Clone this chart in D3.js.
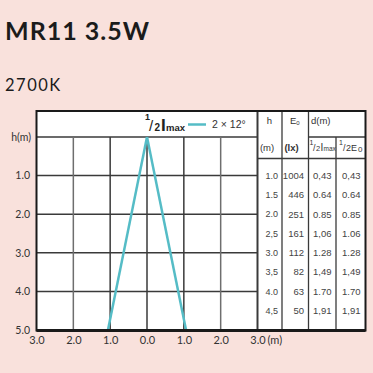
<!DOCTYPE html>
<html>
<head>
<meta charset="utf-8">
<script src="https://cdn.jsdelivr.net/npm/d3@7"></script>
<style>
  html, body { margin: 0; padding: 0; background: #f9e1dc; }
  svg { display: block; }
</style>
</head>
<body>
<script>
var svgW = 373;
var svgH = 373;

// chart data
var xTicks = [-3, -2, -1, 0, 1, 2, 3];
var yTicks = [1, 2, 3, 4, 5];
var coneH = [0, 5];
var coneHalf = [0, 1.06];   // half width at h (m), 12 deg half angle

// table data
var tableH = [1.0, 1.5, 2.0, 2.5, 3.0, 3.5, 4.0, 4.5];
var tableHLabel = ["1.0", "1.5", "2.0", "2,5", "3.0", "3,5", "4.0", "4,5"];
var tableE0 = [1004, 446, 251, 161, 112, 82, 63, 50];
var tableDImax = ["0,43", "0.64", "0.85", "1,06", "1.28", "1,49", "1.70", "1,91"];
var tableDE0 = ["0,43", "0.64", "0.85", "1.06", "1.28", "1,49", "1.70", "1,91"];

var teal = "#55bcc6";
var gridCol = "#3a3a3a";
var textCol = "#333";

var svg = d3.select("body")
  .append("svg")
  .attr("width", svgW)
  .attr("height", svgH);

// title
svg.append("text")
  .attr("x", 5).attr("y", 40)
  .attr("font-family", "Lato")
  .attr("font-weight", "bold")
  .attr("font-size", "25px")
  .attr("letter-spacing", "1px")
  .attr("fill", "#1b1b1b")
  .text("MR11 3.5W");

svg.append("text")
  .attr("x", 5).attr("y", 91)
  .attr("font-family", "Lato")
  .attr("font-size", "16.5px")
  .attr("letter-spacing", "1.5px")
  .attr("fill", "#1b1b1b")
  .text("2700K");

var x = d3.scaleLinear().domain([-3, 3]).range([36.5, 257.5]);
var y = d3.scaleLinear().domain([0, 5]).range([137, 330]);

var boxL = 36.5, boxT = 111, boxR = 365.5, boxB = 330.5;

// white panel
svg.append("rect")
  .attr("x", boxL).attr("y", boxT)
  .attr("width", boxR - boxL).attr("height", boxB - boxT)
  .attr("fill", "white");

// horizontal grid (h = 0..4)
svg.selectAll("line.hgrid")
  .data([0, 1, 2, 3, 4])
  .enter()
  .append("line")
  .attr("class", "hgrid")
  .attr("x1", x(-3)).attr("x2", x(3))
  .attr("y1", function(d) { return y(d); })
  .attr("y2", function(d) { return y(d); })
  .attr("stroke", gridCol)
  .attr("stroke-width", 1.5);

// vertical grid
svg.selectAll("line.vgrid")
  .data([-2, -1, 0, 1, 2])
  .enter()
  .append("line")
  .attr("class", "vgrid")
  .attr("x1", function(d) { return x(d); })
  .attr("x2", function(d) { return x(d); })
  .attr("y1", y(0)).attr("y2", y(5))
  .attr("stroke", function(d) { return Math.abs(d) == 2 ? "#6e6e6e" : gridCol; })
  .attr("stroke-width", 1.5);

// cone
var cone = d3.line()
  .x(function(d) { return x(d[0]); })
  .y(function(d) { return y(d[1]); });

[-1, 1].forEach(function(s) {
  svg.append("path")
    .datum(coneH.map(function(h, i) { return [s * coneHalf[i], h]; }))
    .attr("d", cone)
    .attr("fill", "none")
    .attr("stroke", teal)
    .attr("stroke-width", 2.5);
});

// axes labels
var yAxis = d3.axisLeft(y)
  .tickValues(yTicks)
  .tickSize(0)
  .tickPadding(6)
  .tickFormat(d3.format(".1f"));

var yg = svg.append("g")
  .attr("transform", "translate(" + (boxL - 0.5) + ",0)")
  .call(yAxis);
yg.select(".domain").remove();
yg.selectAll("text")
  .attr("font-family", "Lato")
  .attr("font-size", "10.5px")
  .attr("fill", textCol);

svg.append("text")
  .attr("x", 31).attr("y", y(0))
  .attr("dy", "0.35em")
  .attr("text-anchor", "end")
  .attr("font-family", "Lato")
  .attr("font-size", "10.5px")
  .attr("fill", textCol)
  .text("h(m)");

var xAxis = d3.axisBottom(x)
  .tickValues(xTicks)
  .tickSize(0)
  .tickPadding(6)
  .tickFormat(function(d) { return Math.abs(d).toFixed(1); });

var xg = svg.append("g")
  .attr("transform", "translate(0," + boxB + ")")
  .call(xAxis);
xg.select(".domain").remove();
xg.selectAll("text")
  .attr("font-family", "Lato")
  .attr("font-size", "11px")
  .attr("fill", textCol);

svg.append("text")
  .attr("x", x(3) + 10).attr("y", boxB + 6)
  .attr("dy", "0.71em")
  .attr("font-family", "Lato")
  .attr("font-size", "11px")
  .attr("fill", textCol)
  .text("(m)");

// legend
var leg = svg.append("text")
  .attr("y", 131)
  .attr("font-family", "Liberation Sans")
  .attr("font-weight", "bold")
  .attr("fill", "#222");
leg.append("tspan").attr("x", 145).attr("y", 120).attr("font-size", "9px").text("1");
leg.append("tspan").attr("x", 149).attr("y", 131).attr("font-size", "15px").attr("font-weight", "normal").text("/");
leg.append("tspan").attr("x", 154.5).attr("y", 131).attr("font-size", "10px").text("2");
leg.append("tspan").attr("x", 161).attr("y", 131).attr("font-size", "17px").text("I");
leg.append("tspan").attr("x", 166).attr("y", 131).attr("font-size", "9.5px").text("max");

svg.append("line")
  .attr("x1", 188).attr("x2", 206)
  .attr("y1", 124.5).attr("y2", 124.5)
  .attr("stroke", teal)
  .attr("stroke-width", 2.5);

svg.append("text")
  .attr("x", 212).attr("y", 128)
  .attr("font-family", "Liberation Sans")
  .attr("font-size", "10.5px")
  .attr("fill", textCol)
  .text("2 \u00d7 12\u00b0");

// table lines
var colX = [257.5, 282, 308.5, 336];
svg.selectAll("line.tcol")
  .data(colX)
  .enter()
  .append("line")
  .attr("class", "tcol")
  .attr("x1", function(d) { return d; })
  .attr("x2", function(d) { return d; })
  .attr("y1", function(d, i) { return i == 3 ? 137 : boxT; })
  .attr("y2", boxB)
  .attr("stroke", gridCol)
  .attr("stroke-width", function(d, i) { return i == 0 ? 2 : 1.3; });

svg.append("line")
  .attr("x1", 308.5).attr("x2", boxR)
  .attr("y1", 137).attr("y2", 137)
  .attr("stroke", gridCol).attr("stroke-width", 1.3);

svg.append("line")
  .attr("x1", 257.5).attr("x2", boxR)
  .attr("y1", 158.5).attr("y2", 158.5)
  .attr("stroke", gridCol).attr("stroke-width", 1.3);

// table header
var hdr = svg.append("g")
  .attr("font-family", "Liberation Sans")
  .attr("font-size", "9.5px")
  .attr("fill", textCol);

hdr.append("text").attr("x", 269.5).attr("y", 124).attr("text-anchor", "middle").text("h");
var e0h = hdr.append("text").attr("x", 290).attr("y", 124);
e0h.append("tspan").text("E");
e0h.append("tspan").attr("font-size", "6px").attr("dy", 1).text("0");
hdr.append("text").attr("x", 311).attr("y", 124).text("d(m)");

hdr.append("text").attr("x", 267).attr("y", 151).attr("text-anchor", "middle").text("(m)");
hdr.append("text").attr("x", 291.5).attr("y", 151).attr("text-anchor", "middle").attr("font-weight", "bold").text("(lx)");

var hi = hdr.append("text").attr("y", 151);
hi.append("tspan").attr("x", 309.5).attr("y", 145).attr("font-size", "7px").text("1");
hi.append("tspan").attr("x", 313).attr("y", 151).attr("font-size", "9px").text("/");
hi.append("tspan").attr("x", 316).attr("y", 151).attr("font-size", "7.5px").text("2");
hi.append("tspan").attr("x", 320.5).attr("y", 151).attr("font-size", "10px").text("I");
hi.append("tspan").attr("x", 323.5).attr("y", 151).attr("font-size", "6.5px").text("max");

var he = hdr.append("text").attr("y", 151);
he.append("tspan").attr("x", 339).attr("y", 145).attr("font-size", "7px").text("1");
he.append("tspan").attr("x", 343).attr("y", 151).attr("font-size", "9px").text("/");
he.append("tspan").attr("x", 346).attr("y", 151).attr("font-size", "9px").text("2E");
he.append("tspan").attr("x", 358).attr("y", 152).attr("font-size", "8px").text("0");

// table rows
var rows = svg.append("g")
  .attr("font-family", "Liberation Sans")
  .attr("font-size", "9.5px")
  .attr("fill", "#444");

rows.selectAll("text.th")
  .data(tableH)
  .enter()
  .append("text")
  .attr("class", "th")
  .attr("x", 265.5)
  .attr("y", function(d) { return y(d); })
  .attr("dy", "0.35em")
  .attr("font-size", "9px")
  .text(function(d, i) { return tableHLabel[i]; });

rows.selectAll("text.te")
  .data(tableE0)
  .enter()
  .append("text")
  .attr("class", "te")
  .attr("x", 304)
  .attr("y", function(d, i) { return y(tableH[i]); })
  .attr("dy", "0.35em")
  .attr("text-anchor", "end")
  .text(function(d) { return d; });

rows.selectAll("text.ti")
  .data(tableDImax)
  .enter()
  .append("text")
  .attr("class", "ti")
  .attr("x", 331.5)
  .attr("y", function(d, i) { return y(tableH[i]); })
  .attr("dy", "0.35em")
  .attr("text-anchor", "end")
  .text(function(d) { return d; });

rows.selectAll("text.tz")
  .data(tableDE0)
  .enter()
  .append("text")
  .attr("class", "tz")
  .attr("x", 360.5)
  .attr("y", function(d, i) { return y(tableH[i]); })
  .attr("dy", "0.35em")
  .attr("text-anchor", "end")
  .text(function(d) { return d; });

// outer border
svg.append("rect")
  .attr("x", boxL).attr("y", boxT)
  .attr("width", boxR - boxL).attr("height", boxB - boxT)
  .attr("fill", "none")
  .attr("stroke", "#1a1a1a")
  .attr("stroke-width", 2);

svg.append("line")
  .attr("x1", boxL).attr("x2", boxR)
  .attr("y1", boxB).attr("y2", boxB)
  .attr("stroke", "#1a1a1a")
  .attr("stroke-width", 3);
</script>
</body>
</html>
